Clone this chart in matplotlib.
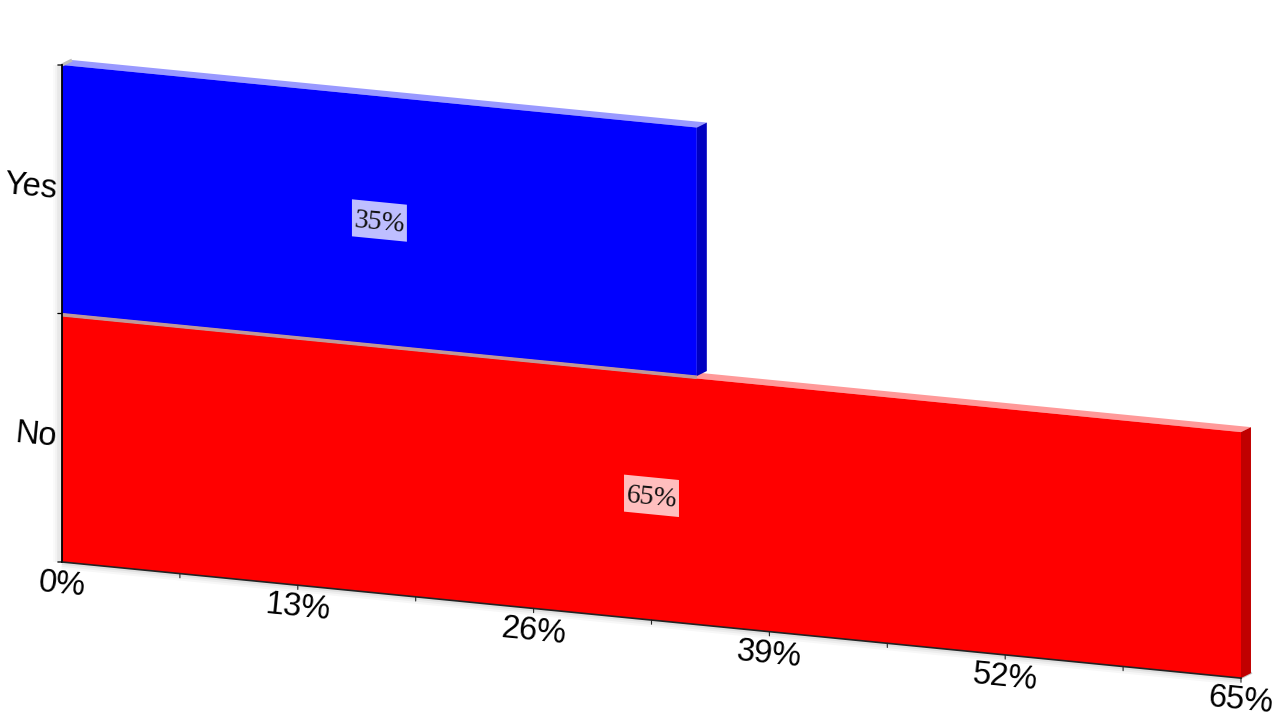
import numpy as np
import matplotlib
matplotlib.use("Agg")
import matplotlib.pyplot as plt
from matplotlib.transforms import Affine2D

# ค่าจากรูป
categories = ["No", "Yes"]
values = [65, 35]
front_colors = ["#ff0000", "#0000ff"]
top_colors = ["#ff9999", "#9999ff"]
side_colors = ["#c00000", "#0000c0"]
x_ticks = [0, 13, 26, 39, 52, 65]
x_labels = ["0%", "13%", "26%", "39%", "52%", "65%"]
x_minor = [6.5, 19.5, 32.5, 45.5, 58.5]

W, H = 1280, 720
X0, X1 = 62, 1241      # ช่วง x ของแกน (pixel)
Y_TOP, Y_BOT = 65, 562
SLOPE = 0.0985
DX, DY = 0.55, 0.024   # ความลึก 3D หน่วย data
GAP = 0.01             # ช่องเล็ก ๆ ใต้แท่งบน เห็นเป็นเส้นเทา
BOX_W, BOX_H = 3.03, 0.149   # ขนาดกล่องป้ายค่า หน่วย data
ANGLE = np.degrees(np.arctan(SLOPE))

plt.rcParams["font.family"] = ["Liberation Sans", "DejaVu Sans"]
fig = plt.figure(figsize=(W / 100, H / 100), dpi=100)
ax = fig.add_axes([X0 / W, 1 - Y_BOT / H, (X1 - X0) / W, (Y_BOT - Y_TOP) / H])
ax.set_xlim(0, 65)
ax.set_ylim(0, 2)
ax.axis("off")

# skew ใน display coords รอบมุมล่างซ้ายของแกน
ox, oy = X0, H - Y_BOT
skew = Affine2D().translate(-ox, -oy).skew(0, -np.arctan(SLOPE)).translate(ox, oy)
tr = ax.transData + skew


def poly(xs, ys, color, z):
    ax.fill(xs, ys, color=color, lw=0, transform=tr, clip_on=False, zorder=z)


# เงาจาง ๆ ใต้แกน x และซ้ายแกน y
for i, a in zip([10, 7, 4], [0.03, 0.04, 0.06]):
    ax.plot([0, 65], [0, 0], color="black", alpha=a, lw=i, transform=tr,
            clip_on=False, zorder=0, solid_capstyle="butt")
    ax.plot([-0.1, -0.1], [0, 2], color="black", alpha=a * 0.7, lw=i, transform=tr,
            clip_on=False, zorder=0, solid_capstyle="butt")

# พื้นกับผนังด้านหลัง (ขอบเทา)
ax.plot([65, 65 + DX], [0, DY], color="#c8c8c8", lw=1.5, transform=tr, clip_on=False, zorder=1)
ax.plot([0, DX], [2, 2 + DY], color="#bdbdbd", lw=2.2, transform=tr, clip_on=False, zorder=11,
        solid_capstyle="butt")

for i, (cat, v) in enumerate(zip(categories, values)):
    base = 3 + i * 3
    top = i + 1 - (GAP if i == 0 else 0)
    poly([0, DX, v + DX, v], [top, top + DY, top + DY, top], top_colors[i], base)
    ax.barh(i, v, height=top - i, align="edge", color=front_colors[i], lw=0, transform=tr,
            clip_on=False, zorder=base + 1)
    poly([v, v + DX, v + DX, v], [i, i + DY, top + DY, top], side_colors[i], base + 2)

# เส้นเทาตรงรอยต่อ
ax.plot([0, values[1]], [1 - GAP / 2, 1 - GAP / 2], color="#c09898", lw=2.6, transform=tr,
        clip_on=False, zorder=12, solid_capstyle="butt")

# แกน
ax.plot([0, 0], [0, 2], color="black", lw=1.3, transform=tr, clip_on=False, zorder=13)
ax.plot([0, 65], [0, 0], color="#222222", lw=1.2, transform=tr, clip_on=False, zorder=13)
for t in x_minor + x_ticks[1:]:
    ax.annotate("", xy=(t, 0), xycoords=tr, xytext=(0, -3), textcoords="offset points",
                arrowprops=dict(arrowstyle="-", lw=0.8, color="#222222", shrinkA=0, shrinkB=0),
                zorder=13)
for t in [0, 1, 2]:
    ax.annotate("", xy=(0, t), xycoords=tr, xytext=(-3, 0), textcoords="offset points",
                arrowprops=dict(arrowstyle="-", lw=0.9, color="black", shrinkA=0, shrinkB=0),
                zorder=13)

for t, lab in zip(x_ticks, x_labels):
    ax.annotate(lab, xy=(t, 0), xycoords=tr, xytext=(0, -16.5), textcoords="offset points",
                ha="center", va="center", rotation=-ANGLE, rotation_mode="anchor",
                fontsize=23.5, color="black", annotation_clip=False)

for i, cat in enumerate(categories):
    ax.annotate(cat, xy=(0, i + 0.5), xycoords=tr, xytext=(-3.6, 0), textcoords="offset points",
                ha="right", va="center", rotation=-ANGLE, rotation_mode="anchor",
                fontsize=23.5, color="black", annotation_clip=False)

# ป้ายค่าในแท่ง: กล่องวาดเป็นแท่งโปร่งแสง จะเอียงตาม skew เหมือนต้นฉบับ
for i, v in enumerate(values):
    ax.barh(i + 0.5, BOX_W, height=BOX_H, left=v / 2 - BOX_W / 2, color="white", alpha=0.75, lw=0,
            transform=tr, clip_on=False, zorder=19)
    ax.annotate(f"{v}%", xy=(v / 2, i + 0.5), xycoords=tr, xytext=(0, -1.8),
                textcoords="offset points", ha="center", va="center",
                rotation=-ANGLE, rotation_mode="anchor", family=["Liberation Serif", "DejaVu Serif"],
                fontsize=20, color="#111111", zorder=20, annotation_clip=False)

fig.savefig("out.png", dpi=100)
